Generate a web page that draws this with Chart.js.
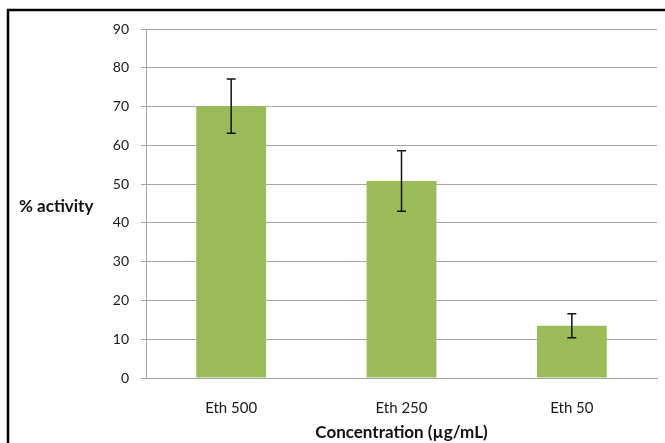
<!DOCTYPE html>
<html>
<head>
<meta charset="utf-8">
<script src="https://cdn.jsdelivr.net/npm/chart.js@4.4.1/dist/chart.umd.min.js"></script>
<style>
  html, body { margin: 0; padding: 0; background: #fff; }
  #wrap { width: 665px; height: 443px; }
</style>
</head>
<body>
<div id="wrap"><canvas id="chart" width="665" height="443"></canvas></div>
<script>
const categories = ['Eth 500', 'Eth 250', 'Eth 50'];
const activity = [70.1, 50.8, 13.5];
const errors = [7.0, 7.8, 3.1];
const yTicks = [0, 10, 20, 30, 40, 50, 60, 70, 80, 90];

const fontFamily = 'Lato, "Open Sans", sans-serif';

// frame + horizontal y title
const decor = {
  id: 'decor',
  afterDraw(chart) {
    const ctx = chart.ctx;
    ctx.save();
    ctx.strokeStyle = '#000';
    ctx.lineWidth = 2.5;
    ctx.beginPath();
    ctx.moveTo(8, 443);
    ctx.lineTo(8, 10);
    ctx.lineTo(665, 10);
    ctx.stroke();

    ctx.fillStyle = '#111';
    ctx.font = 'bold 17px ' + fontFamily;
    ctx.textAlign = 'left';
    ctx.textBaseline = 'middle';
    ctx.fillText('% activity', 19, 207);
    ctx.restore();
  }
};

const errorBars = {
  id: 'errorBars',
  afterDatasetsDraw(chart) {
    const ctx = chart.ctx;
    const y = chart.scales.y;
    const meta = chart.getDatasetMeta(0);
    ctx.save();
    ctx.strokeStyle = '#111';
    ctx.lineWidth = 1.5;
    meta.data.forEach((bar, i) => {
      const top = y.getPixelForValue(activity[i] + errors[i]);
      const bot = y.getPixelForValue(activity[i] - errors[i]);
      ctx.beginPath();
      ctx.moveTo(bar.x, top);
      ctx.lineTo(bar.x, bot);
      ctx.moveTo(bar.x - 4.5, top);
      ctx.lineTo(bar.x + 4.5, top);
      ctx.moveTo(bar.x - 4.5, bot);
      ctx.lineTo(bar.x + 4.5, bot);
      ctx.stroke();
    });
    ctx.restore();
  }
};

new Chart(document.getElementById('chart'), {
  type: 'bar',
  data: {
    labels: categories,
    datasets: [{
      data: activity,
      backgroundColor: '#9BBB59',
      borderWidth: 0,
      categoryPercentage: 1,
      barPercentage: 0.41
    }]
  },
  options: {
    responsive: false,
    animation: false,
    layout: { padding: { top: 29, right: 8, left: 0, bottom: 0 } },
    plugins: { legend: { display: false }, tooltip: { enabled: false } },
    scales: {
      x: {
        grid: { display: false },
        border: { color: '#a6a6a6', width: 1 },
        ticks: { color: '#1a1a1a', font: { family: fontFamily, size: 15 }, padding: 13 },
        title: {
          display: true,
          text: 'Concentration (µg/mL)',
          color: '#111',
          font: { family: fontFamily, size: 17, weight: 'bold' },
          padding: { top: 1, bottom: 0 }
        },
        afterFit(scale) { scale.height = 65; }
      },
      y: {
        min: 0,
        max: 90,
        afterBuildTicks(scale) { scale.ticks = yTicks.map(v => ({ value: v })); },
        grid: { color: '#a6a6a6', lineWidth: 1, tickLength: 5, drawTicks: true },
        border: { color: '#a6a6a6', width: 1 },
        ticks: { color: '#1a1a1a', font: { family: fontFamily, size: 14 }, padding: 12 },
        afterFit(scale) { scale.width = 146; }
      }
    }
  },
  plugins: [errorBars, decor]
});
</script>
</body>
</html>
